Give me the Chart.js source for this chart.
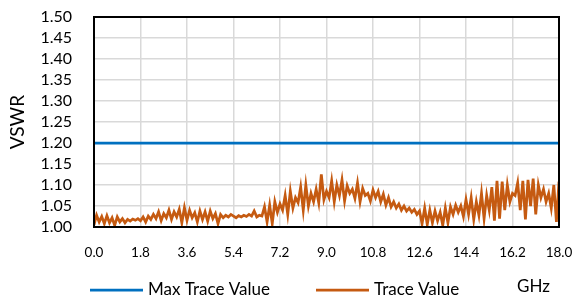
<!DOCTYPE html>
<html>
<head>
<meta charset="utf-8">
<script src="https://cdn.jsdelivr.net/npm/chart.js@4"></script>
<style>
  html, body { margin: 0; padding: 0; background: #fff; }
  #wrap { width: 575px; height: 296px; }
</style>
</head>
<body>
<div id="wrap"><canvas id="vswrChart" width="575" height="296"></canvas></div>
<script>
// frequency grid (GHz) and measured VSWR, 0.0 .. 18.0 in 0.1 GHz steps
const freqStart = 0.0;
const freqStep = 0.1;
const traceValues = [
  1.005, 1.028, 1.012, 1.025, 1.008, 1.027, 1.010, 1.022, 1.004, 1.024,
  1.012, 1.020, 1.010, 1.018, 1.014, 1.019, 1.016, 1.020, 1.015, 1.024,
  1.012, 1.026, 1.018, 1.030, 1.020, 1.036, 1.015, 1.032, 1.022, 1.040,
  1.018, 1.036, 1.024, 1.042, 1.010, 1.046, 1.016, 1.040, 1.022, 1.034,
  1.012, 1.038, 1.018, 1.036, 1.014, 1.038, 1.020, 1.032, 1.008, 1.030,
  1.022, 1.028, 1.024, 1.030, 1.026, 1.022, 1.027, 1.024, 1.028, 1.025,
  1.030, 1.026, 1.038, 1.024, 1.028, 1.026, 1.048, 1.012, 1.052, 1.008,
  1.060, 1.035, 1.055, 1.040, 1.075, 1.030, 1.085, 1.045, 1.070, 1.058,
  1.095, 1.040, 1.100, 1.050, 1.080, 1.060, 1.090, 1.058, 1.125, 1.065,
  1.085, 1.070, 1.110, 1.060, 1.100, 1.075, 1.112, 1.062, 1.098, 1.080,
  1.090, 1.068, 1.105, 1.060, 1.092, 1.075, 1.080, 1.062, 1.088, 1.070,
  1.085, 1.060, 1.078, 1.052, 1.070, 1.048, 1.060, 1.045, 1.055, 1.040,
  1.050, 1.038, 1.045, 1.035, 1.042, 1.030, 1.038, 1.008, 1.045, 1.006,
  1.040, 1.010, 1.038, 1.015, 1.035, 1.004, 1.045, 1.010, 1.048, 1.030,
  1.052, 1.035, 1.050, 1.025, 1.065, 1.030, 1.070, 1.018, 1.060, 1.028,
  1.080, 1.020, 1.075, 1.040, 1.095, 1.015, 1.110, 1.020, 1.108, 1.040,
  1.100, 1.060, 1.080, 1.075, 1.105, 1.040, 1.110, 1.018, 1.112, 1.050,
  1.115, 1.030, 1.100, 1.070, 1.090, 1.060, 1.080, 1.045, 1.100, 1.012,
  1.108
];
const maxTraceValue = 1.20;
const seriesNames = ['Max Trace Value', 'Trace Value'];
const seriesColors = ['#0070C0', '#C55A11'];
const xTickValues = [0.0, 1.8, 3.6, 5.4, 7.2, 9.0, 10.8, 12.6, 14.4, 16.2, 18.0];
const yMin = 1.00, yMax = 1.50, yStep = 0.05;
const xUnit = 'GHz';
const yTitle = 'VSWR';

const FONT = 'Lato, "Open Sans", sans-serif';

const tracePoints = traceValues.map((v, i) => ({ x: +(freqStart + i * freqStep).toFixed(2), y: v }));
const lastFreq = tracePoints[tracePoints.length - 1].x;
const maxPoints = [{ x: freqStart, y: maxTraceValue }, { x: lastFreq, y: maxTraceValue }];

// black frame round the plot area, legend row and unit label underneath
const framePlugin = {
  id: 'frame',
  afterDatasetsDraw(chart) {
    const { ctx, chartArea: a } = chart;
    ctx.save();
    ctx.strokeStyle = '#000';
    ctx.lineWidth = 2;
    ctx.strokeRect(a.left, a.top, a.right - a.left, a.bottom - a.top);
    ctx.restore();
  },
  afterDraw(chart) {
    const { ctx } = chart;
    const y = 290;
    const items = [{ x: 90, i: 0 }, { x: 316, i: 1 }];
    ctx.save();
    ctx.font = '17px ' + FONT;
    ctx.textBaseline = 'middle';
    items.forEach(it => {
      const ds = chart.data.datasets[it.i];
      ctx.strokeStyle = ds.borderColor;
      ctx.lineWidth = ds.borderWidth;
      ctx.beginPath();
      ctx.moveTo(it.x, y);
      ctx.lineTo(it.x + 53, y);
      ctx.stroke();
      ctx.fillStyle = '#000';
      ctx.fillText(ds.label, it.x + 58, y);
    });
    ctx.fillText(xUnit, 517, 287);
    ctx.restore();
  }
};

const ctx = document.getElementById('vswrChart').getContext('2d');
new Chart(ctx, {
  type: 'line',
  data: {
    datasets: [
      {
        label: seriesNames[0],
        data: maxPoints,
        borderColor: seriesColors[0],
        borderWidth: 2.75,
        pointRadius: 0
      },
      {
        label: seriesNames[1],
        data: tracePoints,
        borderColor: seriesColors[1],
        borderWidth: 2.75,
        pointRadius: 0,
        tension: 0
      }
    ]
  },
  options: {
    responsive: false,
    animation: false,
    layout: { padding: { left: 0, right: 16, top: 17, bottom: 0 } },
    plugins: {
      legend: { display: false },
      tooltip: { enabled: false }
    },
    scales: {
      x: {
        type: 'linear',
        min: 0,
        max: 18,
        afterBuildTicks(axis) { axis.ticks = xTickValues.map(v => ({ value: v })); },
        afterFit(axis) {
          axis.height = 69;
          axis.paddingLeft = 0;
          axis.paddingRight = 0;
        },
        ticks: {
          padding: 18,
          color: '#000',
          font: { family: FONT, size: 13.5 },
          maxRotation: 0,
          autoSkip: false,
          callback: v => v.toFixed(1)
        },
        grid: { color: '#d9d9d9', lineWidth: 1.5, drawTicks: false },
        border: { display: false }
      },
      y: {
        min: yMin,
        max: yMax,
        afterFit(axis) {
          axis.width = 94;
          axis.paddingTop = 0;
          axis.paddingBottom = 0;
        },
        ticks: {
          stepSize: yStep,
          padding: 22,
          autoSkip: false,
          color: '#000',
          font: { family: FONT, size: 16 },
          callback: v => v.toFixed(2)
        },
        grid: { color: '#d9d9d9', lineWidth: 1.5, drawTicks: false },
        border: { display: false },
        title: {
          display: true,
          text: yTitle,
          color: '#000',
          font: { family: FONT, size: 19 },
          padding: { top: 6, bottom: 0 }
        }
      }
    }
  },
  plugins: [framePlugin]
});
</script>
</body>
</html>
